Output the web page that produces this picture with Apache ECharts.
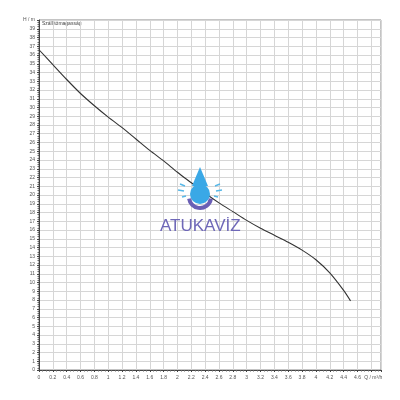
<!DOCTYPE html>
<html>
<head>
<meta charset="utf-8">
<script src="https://cdn.jsdelivr.net/npm/echarts@6/dist/echarts.min.js"></script>
<style>
  html, body { margin: 0; padding: 0; background: #fff; }
  #chart { width: 400px; height: 400px; }
</style>
</head>
<body>
<div id="chart"></div>
<script>
// pump curve: flow Q (m3/h) vs head H (m)
const flow = [0, 0.2, 0.4, 0.6, 0.8, 1.0, 1.2, 1.4, 1.6, 1.8, 2.0, 2.2, 2.4, 2.6, 2.8, 3.0, 3.2, 3.4, 3.6, 3.8, 4.0, 4.2, 4.4, 4.5]
const head = [36.6, 34.9, 33.2, 31.6, 30.2, 28.9, 27.7, 26.4, 25.1, 23.9, 22.6, 21.4, 20.2, 19.1, 18.1, 17.1, 16.2, 15.4, 14.6, 13.7, 12.6, 11.1, 9.1, 7.9]
const xUnitLabel = 'Q / m³/h'
const yUnitLabel = 'H / m'
const seriesName = 'Szállítómagasság'

const chart = echarts.init(document.getElementById('chart'))
const labelStyle = { fontSize: 5, color: '#555', fontFamily: 'Arial, Liberation Sans, sans-serif' }

const splash = [[180, 184, 185, 186], [178, 190, 184, 191], [182, 197, 186, 196], [220, 184, 215, 186], [222, 190, 216, 191], [218, 197, 214, 196]]

chart.setOption({
  animation: false,
  grid: { left: 39, right: 19, top: 20, bottom: 30, show: true, borderColor: '#888', borderWidth: 1 },
  xAxis: {
    type: 'value',
    min: 0,
    max: 4.94,
    interval: 0.2,
    axisLine: { lineStyle: { color: '#444' } },
    axisTick: { length: 2, lineStyle: { color: '#444' } },
    minorTick: { show: true, splitNumber: 4, length: 1.5, lineStyle: { color: '#666' } },
    splitLine: { lineStyle: { color: '#d6d6d6' } },
    axisLabel: Object.assign({}, labelStyle, {
      margin: 5,
      showMaxLabel: false,
      formatter: v => Math.abs(v - 4.8) < 1e-6 ? '{u|' + xUnitLabel + '}' : String(+v.toFixed(1)),
      rich: { u: { fontSize: 5, color: '#555', padding: [0, 0, 0, 4] } }
    })
  },
  yAxis: {
    type: 'value',
    min: 0,
    max: 40,
    interval: 1,
    axisLine: { show: true, lineStyle: { color: '#444' } },
    axisTick: { show: true, length: 2, lineStyle: { color: '#444' } },
    minorTick: { show: true, splitNumber: 4, length: 1.5, lineStyle: { color: '#666' } },
    splitLine: { lineStyle: { color: '#d6d6d6' } },
    axisLabel: Object.assign({}, labelStyle, {
      margin: 4,
      formatter: v => v === 40 ? yUnitLabel : String(v)
    })
  },
  series: [{
    name: seriesName,
    type: 'line',
    data: flow.map((q, i) => [q, head[i]]),
    smooth: 0.3,
    showSymbol: false,
    lineStyle: { color: '#333', width: 1.1 }
  }],
  graphic: [
    { type: 'text', left: 42, top: 21, style: { text: seriesName, fontSize: 5, fill: '#444', fontFamily: 'Arial, sans-serif' } },
    // watermark logo
    { type: 'polygon', shape: { points: [[200, 167], [192, 186], [208, 186]] }, style: { fill: '#3aa8e6' }, z: 10 },
    { type: 'circle', shape: { cx: 200, cy: 194, r: 10 }, style: { fill: '#3aa8e6' }, z: 10 },
    { type: 'arc', shape: { cx: 200, cy: 197, r: 11, startAngle: 0.15, endAngle: Math.PI - 0.15 }, style: { stroke: '#6a5fb5', lineWidth: 4, fill: null }, z: 11 }
  ].concat(splash.map(s => ({
    type: 'line', shape: { x1: s[0], y1: s[1], x2: s[2], y2: s[3] }, style: { stroke: '#58b8e8', lineWidth: 1.5 }, z: 10
  }))).concat([
    { type: 'text', left: 160, top: 218, style: { text: 'ATUKAVİZ', fontSize: 17, fill: '#6f68b8', fontFamily: 'Liberation Sans, Arial, sans-serif' }, z: 10 }
  ])
})
</script>
</body>
</html>
